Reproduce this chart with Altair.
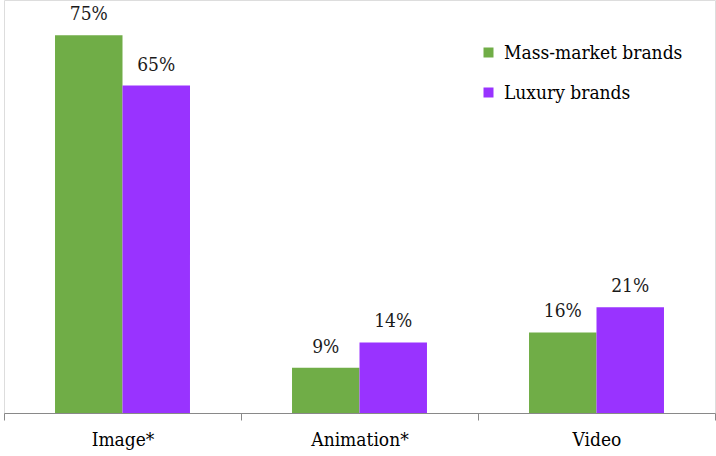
import altair as alt
import pandas as pd

categories = ["Image*", "Animation*", "Video"]
series = ["Mass-market brands", "Luxury brands"]
mass_market = [75, 9, 16]
luxury = [65, 14, 21]
colors = ["#70AD47", "#9933FF"]

rows = []
for i, c in enumerate(categories):
    rows.append({"category": c, "series": series[0], "value": mass_market[i], "label": f"{mass_market[i]}%"})
    rows.append({"category": c, "series": series[1], "value": luxury[i], "label": f"{luxury[i]}%"})
df = pd.DataFrame(rows)

FONT = "DejaVu Serif Condensed"
FS = 19

x = alt.X("category:N", sort=categories, title=None,
          scale=alt.Scale(paddingInner=0, paddingOuter=0),
          axis=alt.Axis(labelAngle=0, labelFontSize=FS, labelFont=FONT, labelColor="#000000",
                        domainColor="#898989", tickColor="#898989", tickSize=7,
                        tickBand="extent", labelPadding=10, domainWidth=1))
xo = alt.XOffset("series:N", sort=series,
                 scale=alt.Scale(paddingInner=0, paddingOuter=0.756))
y = alt.Y("value:Q", scale=alt.Scale(domain=[0, 82], nice=False), axis=None)

bars = alt.Chart(df).mark_bar(stroke=None).encode(
    x=x, xOffset=xo, y=y,
    color=alt.Color("series:N", sort=series,
                    scale=alt.Scale(domain=series, range=colors),
                    legend=alt.Legend(title=None, orient="none", legendX=475, legendY=43,
                                      symbolType="square", symbolSize=100,
                                      symbolStrokeWidth=0, labelFont=FONT,
                                      labelFontSize=FS, labelColor="#000000",
                                      labelLimit=400,
                                      rowPadding=20, labelOffset=6, padding=0)),
)

text = alt.Chart(df).mark_text(baseline="alphabetic", dy=-15, fontSize=FS,
                               font=FONT, color="#1a1a1a").encode(
    x=x, xOffset=xo, y=y, text="label:N"
)

chart = (bars + text).properties(
    width=711, height=413,
    autosize=alt.AutoSizeParams(type="none"),
    padding={"left": 4, "top": 0, "right": 1, "bottom": 43},
).configure_view(stroke=None).configure(background="white")

chart.save("out.html", embed_options={"renderer": "svg", "actions": False})
